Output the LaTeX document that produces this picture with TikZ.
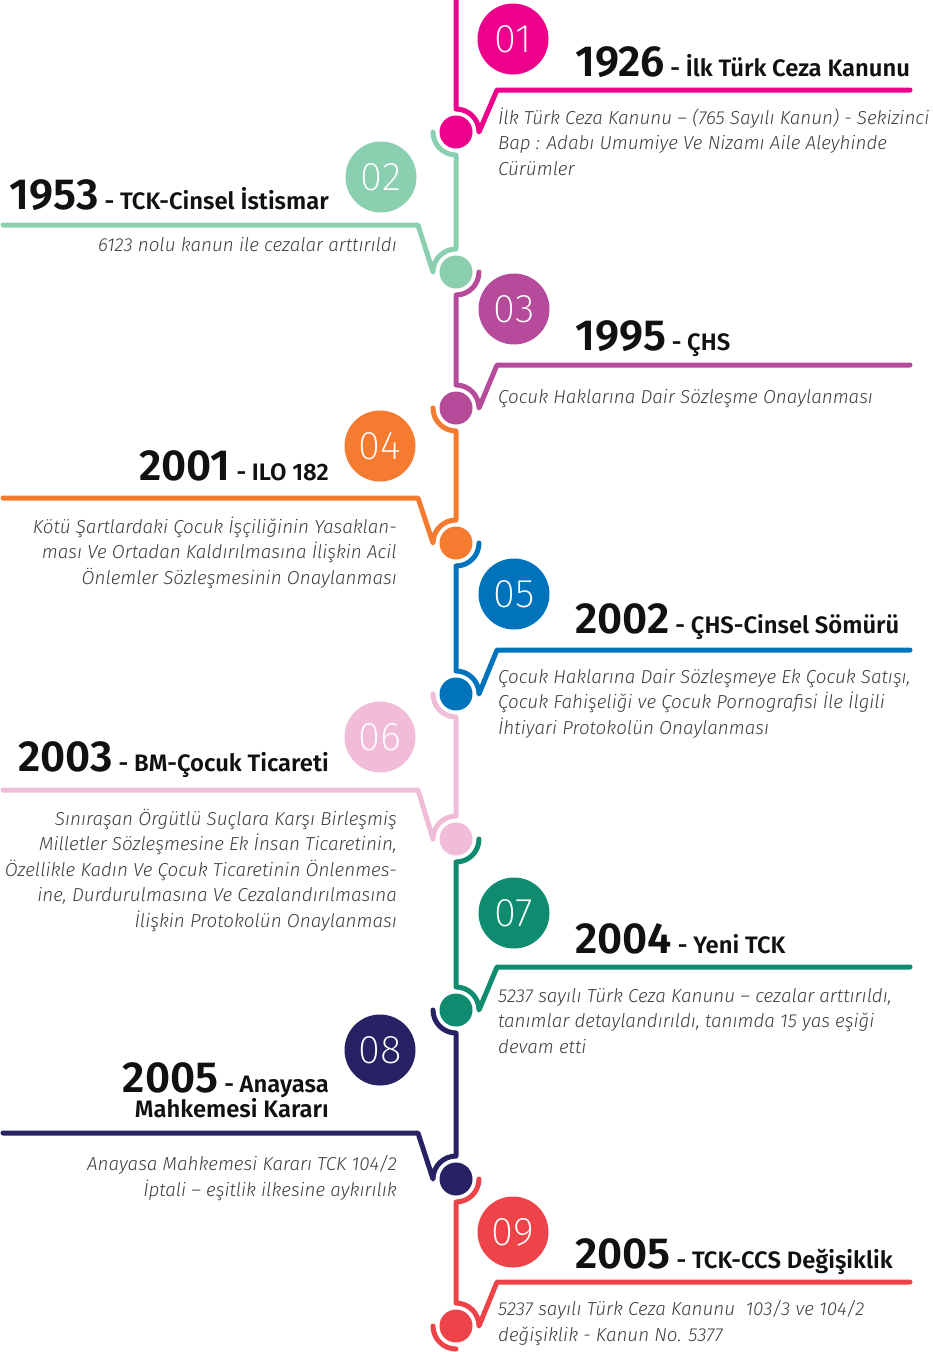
\documentclass[tikz,border=0pt]{standalone}
\usepackage{fontspec}
\usetikzlibrary{calc}
\setmainfont{Fira Sans}
\IfFontExistsTF{Fira Sans Light Italic}{\newfontfamily\descfam{Fira Sans Light Italic}\def\descshape{}}{\newfontfamily\descfam{Fira Sans}\def\descshape{\itshape}}
\IfFontExistsTF{Fira Sans SemiBold}{\newfontfamily\titlefam{Fira Sans SemiBold}\def\titleshape{}}{\newfontfamily\titlefam{Fira Sans}\def\titleshape{\bfseries}}
\IfFontExistsTF{Fira Sans ExtraLight}{\newfontfamily\numfam{Fira Sans ExtraLight}}{\IfFontExistsTF{Fira Sans Light}{\newfontfamily\numfam{Fira Sans Light}}{\newfontfamily\numfam{Fira Sans}}}
\definecolor{c1}{HTML}{EC008C}
\definecolor{c2}{HTML}{8BCFB1}
\definecolor{c3}{HTML}{B64A9B}
\definecolor{c4}{HTML}{F47B30}
\definecolor{c5}{HTML}{0073BD}
\definecolor{c6}{HTML}{F0BCD8}
\definecolor{c7}{HTML}{0F8C6F}
\definecolor{c8}{HTML}{272263}
\definecolor{c9}{HTML}{EE4449}
\definecolor{desctext}{HTML}{3C3C3C}
\definecolor{titletext}{HTML}{111111}
\newcommand\yearsz{\fontsize{43.5}{48}\selectfont}
\newcommand\subsz{\fontsize{23.8}{28}\selectfont}
\newcommand\descsz{\descfam\descshape\fontsize{18.8}{25.5}\selectfont}
\begin{document}
\begin{tikzpicture}[x=1pt,y=1pt,
 seg/.style={line width=5pt,line cap=round,line join=round},
 dotn/.style={circle,inner sep=0pt,minimum size=33pt},
 numc/.style={circle,inner sep=0pt,minimum size=71pt,text=white,font=\numfam\fontsize{40}{40}\selectfont},
 titleL/.style={anchor=base west,inner sep=0pt,text=titletext,font=\titlefam\titleshape\subsz},
 titleR/.style={anchor=base east,inner sep=0pt,text=titletext,font=\titlefam\titleshape\subsz},
 descL/.style={anchor=base west,inner sep=0pt,align=left,text=desctext,font=\descsz},
 descR/.style={anchor=base east,inner sep=0pt,align=right,text=desctext,font=\descsz},
]
\useasboundingbox (0,0) rectangle (933,-1352);

% dots
\node[dotn,fill=c1] (d1) at (456,-132) {};
\node[dotn,fill=c2] (d2) at (456,-272) {};
\node[dotn,fill=c3] (d3) at (456,-408) {};
\node[dotn,fill=c4] (d4) at (456,-543) {};
\node[dotn,fill=c5] (d5) at (456,-694) {};
\node[dotn,fill=c6] (d6) at (456,-839) {};
\node[dotn,fill=c7] (d7) at (456,-1010) {};
\node[dotn,fill=c8] (d8) at (456,-1179) {};
\node[dotn,fill=c9] (d9) at (456,-1326) {};

% number circles
\node[numc,fill=c1] (n1) at (513,-39) {01};
\node[numc,fill=c2] (n2) at (381,-177) {02};
\node[numc,fill=c3] (n3) at (514,-309) {03};
\node[numc,fill=c4] (n4) at (380,-446) {04};
\node[numc,fill=c5] (n5) at (514,-594) {05};
\node[numc,fill=c6] (n6) at (380,-737) {06};
\node[numc,fill=c7] (n7) at (514,-913) {07};
\node[numc,fill=c8] (n8) at (380,-1050) {08};
\node[numc,fill=c9] (n9) at (513,-1232) {09};

% free ends
\coordinate (top) at (456,0);
\coordinate (h1a) at (497,-90);   \coordinate (h1b) at (910,-90);
\coordinate (h2a) at (418,-225);  \coordinate (h2b) at (3,-225);
\coordinate (h3a) at (497,-365);  \coordinate (h3b) at (910,-365);
\coordinate (h4a) at (418,-498);  \coordinate (h4b) at (3,-498);
\coordinate (h5a) at (497,-650);  \coordinate (h5b) at (910,-650);
\coordinate (h6a) at (418,-790);  \coordinate (h6b) at (3,-790);
\coordinate (h7a) at (497,-967);  \coordinate (h7b) at (910,-967);
\coordinate (h8a) at (418,-1133); \coordinate (h8b) at (3,-1133);
\coordinate (h9a) at (497,-1282); \coordinate (h9b) at (910,-1282);

% connectors
\draw[seg,c1] (top) -- ($(d1)+(0,23)$) arc[start angle=90,end angle=0,radius=23] -- (h1a) -- (h1b);
\draw[seg,c2] ($(d1)+(-23,0)$) arc[start angle=180,end angle=270,radius=23] -- ($(d2)+(0,23)$) arc[start angle=90,end angle=180,radius=23] -- (h2a) -- (h2b);
\draw[seg,c3] ($(d2)+(23,0)$) arc[start angle=0,end angle=-90,radius=23] -- ($(d3)+(0,23)$) arc[start angle=90,end angle=0,radius=23] -- (h3a) -- (h3b);
\draw[seg,c4] ($(d3)+(-23,0)$) arc[start angle=180,end angle=270,radius=23] -- ($(d4)+(0,23)$) arc[start angle=90,end angle=180,radius=23] -- (h4a) -- (h4b);
\draw[seg,c5] ($(d4)+(23,0)$) arc[start angle=0,end angle=-90,radius=23] -- ($(d5)+(0,23)$) arc[start angle=90,end angle=0,radius=23] -- (h5a) -- (h5b);
\draw[seg,c6] ($(d5)+(-23,0)$) arc[start angle=180,end angle=270,radius=23] -- ($(d6)+(0,23)$) arc[start angle=90,end angle=180,radius=23] -- (h6a) -- (h6b);
\draw[seg,c7] ($(d6)+(23,0)$) arc[start angle=0,end angle=-90,radius=23] -- ($(d7)+(0,23)$) arc[start angle=90,end angle=0,radius=23] -- (h7a) -- (h7b);
\draw[seg,c8] ($(d7)+(-23,0)$) arc[start angle=180,end angle=270,radius=23] -- ($(d8)+(0,23)$) arc[start angle=90,end angle=180,radius=23] -- (h8a) -- (h8b);
\draw[seg,c9] ($(d8)+(23,0)$) arc[start angle=0,end angle=-90,radius=23] -- ($(d9)+(0,23)$) arc[start angle=90,end angle=0,radius=23] -- (h9a) -- (h9b);
\draw[seg,c9] ($(d9)+(-23,0)$) arc[start angle=180,end angle=270,radius=23];

% titles
\node[titleL] (t1) at (575,-76) {{\yearsz 1926} - İlk Türk Ceza Kanunu};
\node[titleR] (t2) at (329,-209) {{\yearsz 1953} - TCK-Cinsel İstismar};
\node[titleL] (t3) at (575,-350) {{\yearsz 1995} - ÇHS};
\node[titleR] (t4) at (329,-480) {{\yearsz 2001} - ILO 182};
\node[titleL] (t5) at (575,-633) {{\yearsz 2002} - ÇHS-Cinsel Sömürü};
\node[titleR] (t6) at (329,-771) {{\yearsz 2003} - BM-Çocuk Ticareti};
\node[titleL] (t7) at (575,-953) {{\yearsz 2004} - Yeni TCK};
\node[titleR] (t8a) at (329,-1092) {{\yearsz 2005} - Anayasa};
\node[titleR] (t8b) at (329,-1117) {Mahkemesi Kararı};
\node[titleL] (t9) at (575,-1268) {{\yearsz 2005} - TCK-CCS Değişiklik};

% descriptions (anchor = baseline of last line)
\node[descL] (e1) at (498,-175) {İlk Türk Ceza Kanunu – (765 Sayılı Kanun) - Sekizinci\\Bap : Adabı Umumiye Ve Nizamı Aile Aleyhinde\\Cürümler};
\node[descR] (e2) at (397,-251) {6123 nolu kanun ile cezalar arttırıldı};
\node[descL] (e3) at (498,-403) {Çocuk Haklarına Dair Sözleşme Onaylanması};
\node[descR] (e4) at (397,-584) {Kötü Şartlardaki Çocuk İşçiliğinin Yasaklan-\\ması Ve Ortadan Kaldırılmasına İlişkin Acil\\Önlemler Sözleşmesinin Onaylanması};
\node[descL] (e5) at (498,-734) {Çocuk Haklarına Dair Sözleşmeye Ek Çocuk Satışı,\\Çocuk Fahişeliği ve Çocuk Pornografisi İle İlgili\\İhtiyari Protokolün Onaylanması};
\node[descR] (e6) at (397,-927) {Sınıraşan Örgütlü Suçlara Karşı Birleşmiş\\Milletler Sözleşmesine Ek İnsan Ticaretinin,\\Özellikle Kadın Ve Çocuk Ticaretinin Önlenmes-\\ine, Durdurulmasına Ve Cezalandırılmasına\\İlişkin Protokolün Onaylanması};
\node[descL] (e7) at (498,-1053) {5237 sayılı Türk Ceza Kanunu – cezalar arttırıldı,\\tanımlar detaylandırıldı, tanımda 15 yas eşiği\\devam etti};
\node[descR] (e8) at (397,-1196) {Anayasa Mahkemesi Kararı TCK 104/2\\İptali – eşitlik ilkesine aykırılık};
\node[descL] (e9) at (498,-1341) {5237 sayılı Türk Ceza Kanunu~~103/3 ve 104/2\\değişiklik - Kanun No. 5377};
\end{tikzpicture}
\end{document}
